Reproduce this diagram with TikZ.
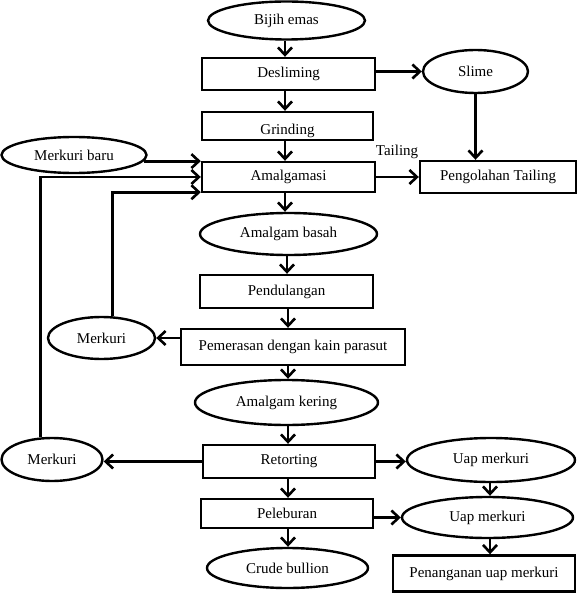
\documentclass[tikz,border=0pt]{standalone}
\usepackage{fontspec}
\setmainfont{Liberation Serif}
\usetikzlibrary{shapes.geometric,arrows.meta,calc}
\begin{document}
\begin{tikzpicture}[x=1pt,y=-1pt,
  every node/.style={font=\fontsize{15}{18}\selectfont, inner sep=0pt},
  procbox/.style={draw, line width=2.4pt, rectangle},
  oval/.style={draw, line width=2.4pt, ellipse},
  arr/.style={line width=2.8pt, -{Straight Barb[length=7.5pt,width=14pt,line width=2.6pt]}},
  ln/.style={line width=2.8pt}]
\useasboundingbox (0,0) rectangle (581,593);

\node[oval, minimum width=157pt, minimum height=38pt] (bijih) at (286.5,20.5) {Bijih emas};
\node[procbox, minimum width=173pt, minimum height=32pt] (desl) at (288.5,74) {Desliming};
\node[oval, minimum width=105pt, minimum height=43pt] (slime) at (475.5,71.5) {Slime};
\node[procbox, minimum width=171pt, minimum height=28pt] (grind) at (287.5,126) {\raisebox{-5pt}[10pt][3pt]{Grinding}};
\node[procbox, minimum width=173pt, minimum height=30pt] (amalg) at (288.5,177) {Amalgamasi};
\node[procbox, minimum width=156pt, minimum height=32pt] (peng) at (498,177) {Pengolahan Tailing};
\node (tail) at (397,152) {Tailing};
\node[oval, minimum width=145pt, minimum height=36pt] (mbaru) at (74,155) {Merkuri baru};
\node[oval, minimum width=177pt, minimum height=42pt] (abasah) at (288.5,234) {Amalgam basah};
\node[procbox, minimum width=173pt, minimum height=33pt] (pend) at (286.5,291.5) {Pendulangan};
\node[procbox, minimum width=224pt, minimum height=36pt] (pemer) at (293,347) {Pemerasan dengan kain parasut};
\node[oval, minimum width=107pt, minimum height=42pt] (merka) at (101.5,338) {Merkuri};
\node[oval, minimum width=183pt, minimum height=45pt] (aker) at (286.5,402.5) {Amalgam kering};
\node[oval, minimum width=101pt, minimum height=43pt] (merkb) at (52,459.5) {Merkuri};
\node[procbox, minimum width=172pt, minimum height=33pt] (retort) at (289,461.5) {Retorting};
\node[oval, minimum width=168pt, minimum height=44pt] (uapa) at (491,460) {Uap merkuri};
\node[procbox, minimum width=172pt, minimum height=29pt] (lebur) at (287,513.5) {Peleburan};
\node[oval, minimum width=171pt, minimum height=41pt] (uapb) at (487.5,517.5) {Uap merkuri};
\node[oval, minimum width=161pt, minimum height=40pt] (crude) at (287.5,568) {Crude bullion};
\node[procbox, minimum width=182pt, minimum height=36pt] (penang) at (484,573.5) {Penanganan uap merkuri};

% main vertical flow
\coordinate (cx) at (285,0);
\draw[arr] (bijih.south -| cx) -- (desl.north -| cx);
\draw[arr] (desl.south -| cx) -- (grind.north -| cx);
\draw[arr] (grind.south -| cx) -- (amalg.north -| cx);
\coordinate (cy) at (287,0);
\draw[arr] (amalg.south -| cx) -- (abasah.north -| cx);
\draw[arr] (abasah.south -| cy) -- (pend.north -| cy);
\coordinate (cz) at (288,0);
\draw[arr] (pend.south -| cz) -- (pemer.north -| cz);
\draw[arr] (pemer.south -| cz) -- (aker.north -| cz);
\draw[arr] (aker.south -| cz) -- (retort.north -| cz);
\draw[arr] (retort.south -| cz) -- (lebur.north -| cz);
\draw[arr] (lebur.south -| cz) -- (crude.north -| cz);

% right side
\draw[arr] (desl.east |- slime.west) -- (slime.west);
\draw[arr] (slime.south) -- (slime.south |- peng.north);
\draw[arr] (amalg.east) -- (peng.west);
\draw[arr] (retort.east) -- (retort.east -| uapa.west);
\coordinate (ux) at (490,0);
\draw[arr] (uapa.south -| ux) -- (uapb.north -| ux);
\draw[arr] (lebur.east |- uapb.west) -- (uapb.west);
\draw[arr] (uapb.south -| ux) -- (penang.north -| ux);

% left side
\draw[arr] (mbaru.-5) -- (mbaru.-5 -| amalg.west);
\draw[arr] (merkb.117) |- (amalg.west);
\draw[arr] (merka.63) |- ($(amalg.south west)+(0,-1)$);
\draw[arr] (pemer.west |- merka.east) -- (merka.east);
\draw[arr] (retort.west) -- (retort.west -| merkb.east);
\end{tikzpicture}
\end{document}
